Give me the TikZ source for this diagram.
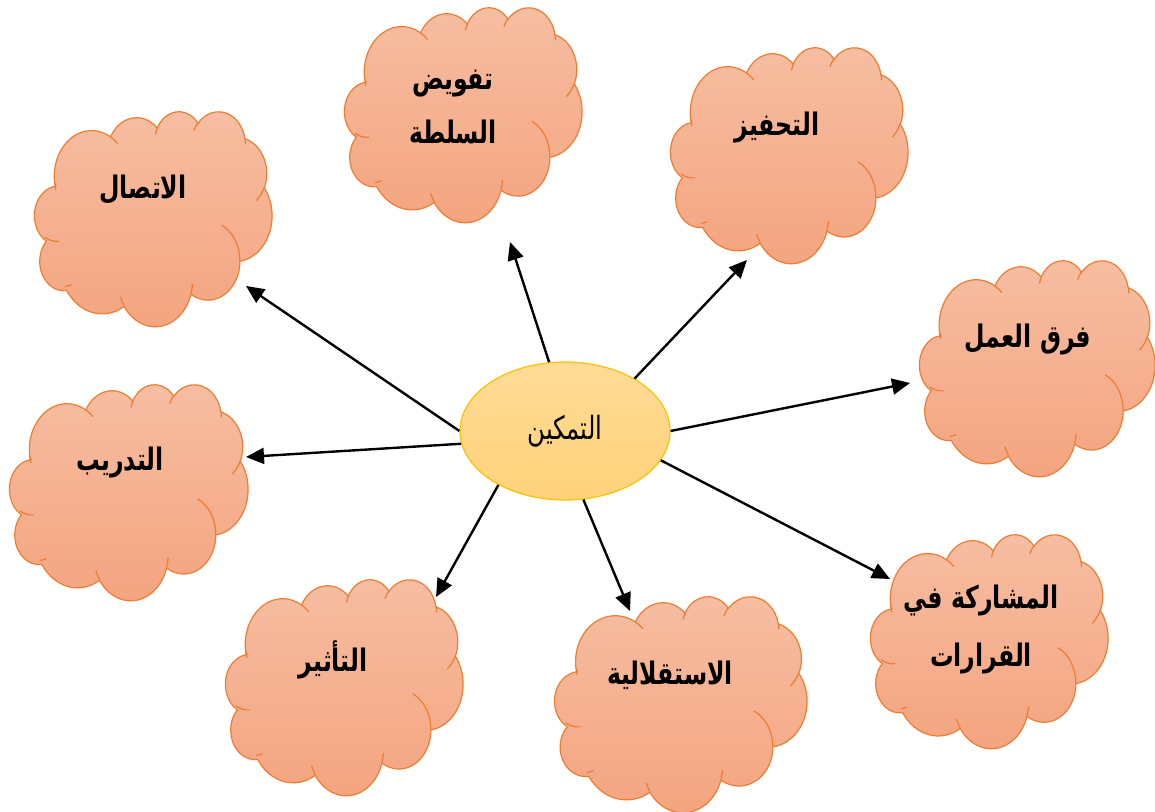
\documentclass[tikz,border=0pt]{standalone}
\usepackage{fontspec}
\newfontfamily\arabicfont[Script=Arabic, FakeStretch=0.76]{DejaVu Sans}
\TeXXeTstate=1
\usetikzlibrary{shapes.geometric,arrows.meta}

\definecolor{cloudtop}{RGB}{246,190,162}
\definecolor{cloudbot}{RGB}{244,164,127}
\definecolor{cloudedge}{RGB}{237,125,49}
\definecolor{elltop}{RGB}{255,219,150}
\definecolor{ellbot}{RGB}{255,211,122}
\definecolor{elledge}{RGB}{255,192,0}

% elliptical arc of the office cloud: id, wR, hR, start angle, sweep (visual angles, y down)
\newcommand\mkarc[5]{%
  \pgfmathsetmacro\tmpa{atan2(#2*sin(#4),#3*cos(#4))}%
  \pgfmathsetmacro\tmpb{atan2(#2*sin(#4+#5),#3*cos(#4+#5))}%
  \pgfmathsetmacro\tmpb{\tmpb<\tmpa ? \tmpb+360 : \tmpb}%
  \expandafter\edef\csname cloudarc#1\endcsname{arc[start angle=\tmpa, end angle=\tmpb, x radius=#2, y radius=#3]}%
}
\mkarc{A}{6.753}{9.190}{-190.4875}{123.7805}
\mkarc{B}{5.333}{7.267}{-144.1024}{89.9452}
\mkarc{C}{4.365}{5.945}{-145.8079}{99.7230}
\mkarc{D}{4.857}{6.595}{-130.9861}{117.2417}
\mkarc{E}{5.333}{7.273}{-78.7089}{109.0269}
\mkarc{F}{6.775}{9.220}{-46.2673}{130.2690}
\mkarc{G}{5.785}{7.867}{0.6250}{114.0333}
\mkarc{H}{6.752}{9.215}{22.4516}{115.1726}
\mkarc{I}{7.720}{10.543}{66.2426}{71.3571}
\mkarc{J}{4.360}{5.918}{-274.9421}{146.7356}
\mkarc{K}{4.345}{5.945}{-246.8285}{152.5189}
\mkarc{a}{4.345}{5.945}{86.7420}{26.4295}
\mkarc{b}{4.360}{5.918}{73.6105}{11.4475}
\mkarc{c}{6.752}{9.215}{137.6242}{14.0811}
\mkarc{d}{6.752}{9.215}{6.4533}{15.9984}
\mkarc{e}{5.785}{7.867}{-70.2924}{70.9174}
\mkarc{f}{5.333}{7.273}{30.3180}{27.7515}
\mkarc{g}{4.857}{6.595}{-13.7443}{14.8589}
\mkarc{h}{4.857}{6.595}{-149.1815}{18.1954}
\mkarc{i}{4.365}{5.945}{-163.4943}{17.6864}
\mkarc{j}{6.753}{9.190}{-66.7070}{12.3194}
\mkarc{k}{6.753}{9.190}{157.6544}{11.8582}

\tikzset{
  cloudfill/.style={draw=cloudedge, line width=0.6pt, top color=cloudtop, bottom color=cloudbot},
  cloudline/.style={draw=cloudedge, line width=0.6pt},
  lbl/.style={font=\arabicfont\bfseries\fontsize{15.5}{18}\selectfont, inner sep=0pt, align=center, text=black},
  hub/.style={ellipse, draw=elledge, line width=0.6pt, top color=elltop, bottom color=ellbot,
    minimum width=105pt, minimum height=69pt, inner sep=0pt,
    font=\arabicfont\fontsize{16}{19}\selectfont},
  link/.style={-{Triangle[length=9pt,width=8pt]}, line width=1.2pt, black},
}

% cloud with top-left corner (x,y), width w, height h, in page pixels
\newcommand\drawcloud[4]{%
  \begin{scope}[shift={(#1,#2)}, xscale=#3/43.2, yscale=#4/43.2]
    \path[cloudfill] (3.900,14.370) \cloudarcA \cloudarcB \cloudarcC \cloudarcD \cloudarcE
      \cloudarcF \cloudarcG \cloudarcH \cloudarcI \cloudarcJ \cloudarcK -- cycle;
    \path[cloudline] (4.693,26.177) \cloudarca (6.928,34.899) \cloudarcb
      (16.478,39.090) \cloudarcc (28.827,34.751) \cloudarcd
      (34.129,22.954) \cloudarce (41.798,15.354) \cloudarcf
      (38.324,5.426) \cloudarcg (29.078,3.952) \cloudarch
      (22.141,4.720) \cloudarci (14.000,5.192) \cloudarcj
      (4.127,15.789) \cloudarck;
  \end{scope}}

\begin{document}
\begin{tikzpicture}[x=0.5pt, y=-0.5pt]
\useasboundingbox (0,0) rectangle (1155,812);
\fill[white] (0,0) rectangle (1155,812);

% clouds
\drawcloud{33}{111}{239}{215}
\drawcloud{343}{7}{239}{215}
\drawcloud{669}{47}{239}{216}
\drawcloud{918}{260}{237}{216}
\drawcloud{8}{384}{240}{216}
\drawcloud{224}{579}{239}{216}
\drawcloud{553}{596}{254}{216}
\drawcloud{869}{534}{239}{214}

% labels
\node[lbl] (n1) at (143,190) {\beginR الاتصال\endR};
\node[lbl] (n2) at (453,107) {\beginR تفويض\endR\\[9pt]\beginR السلطة\endR};
\node[lbl] (n3) at (777,128) {\beginR التحفيز\endR};
\node[lbl] (n4) at (1028,340) {\beginR فرق العمل\endR};
\node[lbl] (n5) at (120,463) {\beginR التدريب\endR};
\node[lbl] (n6) at (333,660) {\beginR التأثير\endR};
\node[lbl] (n7) at (670,675) {\beginR الاستقلالية\endR};
\node[lbl] (n8) at (981,630) {\beginR المشاركة في\endR\\[11pt]\beginR القرارات\endR};

% hub
\node[hub] (c) at (565,431) {\raisebox{3.5pt}{\beginR التمكين\endR}};

% arrow tips
\coordinate (t1) at (246,286);
\coordinate (t2) at (510,242);
\coordinate (t3) at (747,260);
\coordinate (t4) at (910,383);
\coordinate (t5) at (890,579);
\coordinate (t6) at (630,611);
\coordinate (t7) at (436,597);
\coordinate (t8) at (246,457);

\draw[link] (c.180) -- (t1);
\draw[link] (c.103) -- (t2);
\draw[link] (c.37) -- (t3);
\draw[link] (c.0) -- (t4);
\draw[link] (c.-17) -- (t5);
\draw[link] (c.-75) -- (t6);
\draw[link] (c.219) -- (t7);
\draw[link] (c.187) -- (t8);
\end{tikzpicture}
\end{document}
